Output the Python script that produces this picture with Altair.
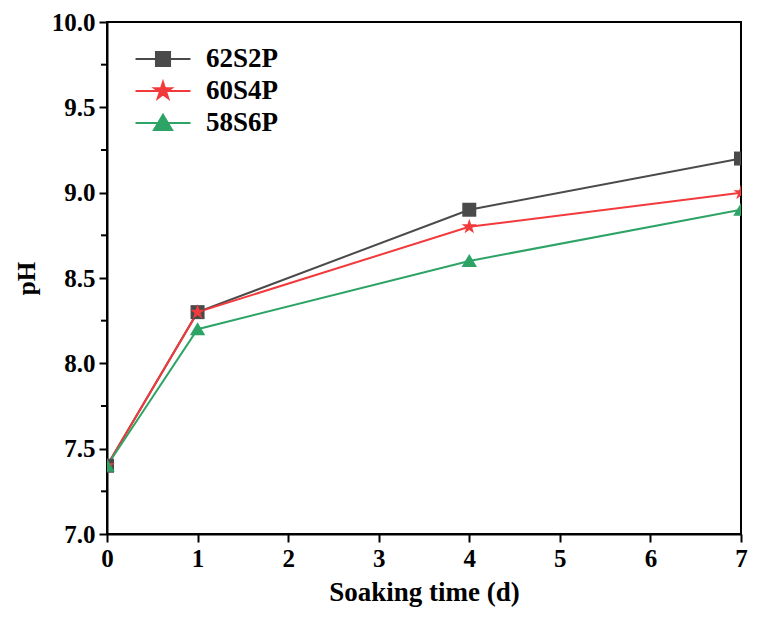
import math
import altair as alt
import pandas as pd

days = [0, 1, 4, 7]
series_names = ["62S2P", "60S4P", "58S6P"]
ph_62S2P = [7.4, 8.3, 8.9, 9.2]
ph_60S4P = [7.4, 8.3, 8.8, 9.0]
ph_58S6P = [7.4, 8.2, 8.6, 8.9]
colors = ["#4a4a4a", "#f23a3c", "#2ea366"]

rows = []
for name, vals in zip(series_names, [ph_62S2P, ph_60S4P, ph_58S6P]):
    for d, v in zip(days, vals):
        rows.append({"day": d, "pH": v, "series": name})
df = pd.DataFrame(rows)


def star(scale, cx=0.0):
    pts = []
    for k in range(10):
        ang = math.radians(-90 + 36 * k)
        r = scale if k % 2 == 0 else scale * 0.382
        pts.append((cx + r * math.cos(ang), r * math.sin(ang)))
    return "M" + "L".join(f"{x:.4f},{y:.4f}" for x, y in pts) + "Z"


def square(h):
    return f"M{-h},{-h}L{h},{-h}L{h},{h}L{-h},{h}Z"


def tri(h):
    return f"M0,{-h}L{h*1.1},{h*0.85}L{-h*1.1},{h*0.85}Z"


marker_paths = [square(1), star(1.15), tri(1)]
line = "M-1.833,0L1.833,0"
legend_paths = [line + square(0.47), line + star(0.6), line + tri(0.55)]

font = "Liberation Serif"
FS = 25
x_enc = alt.X("day:Q", scale=alt.Scale(domain=[0, 7], nice=False),
              axis=alt.Axis(title="Soaking time (d)", values=list(range(8)), format="d",
                            labelFlush=False))
y_enc = alt.Y("pH:Q", scale=alt.Scale(domain=[7.0, 10.0], nice=False, zero=False),
              axis=alt.Axis(title="pH", values=[7.0, 7.5, 8.0, 8.5, 9.0, 9.5, 10.0], format=".1f"))

leg = dict(title=None, orient="none", legendX=40, legendY=21, padding=0,
           symbolOpacity=1, symbolStrokeWidth=2, symbolSize=900,
           labelFont=font, labelFontSize=27, labelFontWeight="bold",
           labelColor="black", rowPadding=3, labelOffset=27)

base = alt.Chart(df)
legend_layer = base.mark_point(opacity=0, size=900).encode(
    x=x_enc, y=y_enc,
    fill=alt.Fill("series:N", scale=alt.Scale(domain=series_names, range=colors), legend=alt.Legend(**leg)),
    stroke=alt.Stroke("series:N", scale=alt.Scale(domain=series_names, range=colors), legend=alt.Legend(**leg)),
    shape=alt.Shape("series:N", scale=alt.Scale(domain=series_names, range=legend_paths), legend=alt.Legend(**leg)),
)
lines = base.mark_line(strokeWidth=2, clip=True).encode(
    x=x_enc, y=y_enc,
    color=alt.Color("series:N", scale=alt.Scale(domain=series_names, range=colors), legend=None),
    detail="series:N")

point_layers = []
for name, col, path in zip(series_names, colors, marker_paths):
    point_layers.append(
        base.transform_filter(alt.datum.series == name).mark_point(
            filled=True, opacity=1, size=196, clip=True, color=col, shape=path
        ).encode(x=x_enc, y=y_enc)
    )

minor = alt.Chart(pd.DataFrame({"m": [7.25, 7.75, 8.25, 8.75, 9.25, 9.75]})).mark_rule(
    color="black", strokeWidth=2
).encode(y=alt.Y("m:Q", scale=alt.Scale(domain=[7.0, 10.0], nice=False, zero=False)),
         x=alt.value(-6), x2=alt.value(0))

chart = alt.layer(legend_layer, lines, *point_layers, minor).properties(
    width=634, height=512,
    autosize=alt.AutoSizeParams(type="none"),
    padding={"left": 99, "top": 14, "right": 9, "bottom": 77},
).configure_view(stroke="black", strokeWidth=2).configure_axis(
    labelFont=font, labelFontSize=FS, labelFontWeight="bold", labelColor="black",
    titleFont=font, titleFontSize=FS, titleFontWeight="bold", titleColor="black",
    domainColor="black", domainWidth=2, tickColor="black", tickWidth=2, tickSize=8,
    grid=False,
).configure_axisY(titlePadding=12, labelPadding=4).configure_axisX(
    titlePadding=8, labelPadding=4, titleFontSize=27)

chart.save("out.html", embed_options={"renderer": "svg", "actions": False})
